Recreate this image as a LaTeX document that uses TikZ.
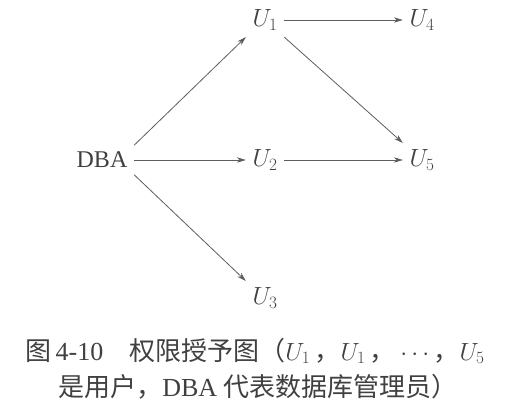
\documentclass[tikz,border=0pt]{standalone}
\usepackage{fontspec}
\setmainfont{Liberation Serif}
\newfontfamily\cjk{Noto Sans CJK SC}
\usetikzlibrary{arrows.meta}
\definecolor{ink}{HTML}{404040}
\tikzset{
  nd/.style={inner sep=6.5pt, text=ink, font=\fontsize{24}{28}\selectfont},
  arr/.style={draw=ink!85, line width=0.8pt, -{Stealth[length=9pt,width=5.5pt]}},
  captext/.style={text=ink, font=\fontsize{26}{30}\selectfont, inner sep=0pt}
}
\begin{document}
\begin{tikzpicture}[x=1pt,y=1pt]
\useasboundingbox (0,0) rectangle (505,418);
\node[nd] (U1) at (265,398) {$U_1$};
\node[nd] (U4) at (422,398) {$U_4$};
\node[nd] (DBA) at (102,258) {DBA};
\node[nd] (U2) at (265,258) {$U_2$};
\node[nd] (U5) at (422,258) {$U_5$};
\node[nd] (U3) at (265,120) {$U_3$};
\draw[arr] (DBA.north east) -- (U1.south west);
\draw[arr] (U1) -- (U4);
\draw[arr] (U1.south east) -- (U5.north west);
\draw[arr] (DBA) -- (U2);
\draw[arr] (U2) -- (U5);
\draw[arr] (DBA.south east) -- (U3.north west);
\node[captext] (c1) at (255,67) {{\cjk 图}\,4-10\quad{\cjk 权限授予图（}$U_1$\,{\cjk ，}$U_1$\,{\cjk ，}\,$\cdots$\,{\cjk ，}$U_5$};
\node[captext] (c2) at (258,31) {{\cjk 是用户，}DBA {\cjk 代表数据库管理员）}};
\end{tikzpicture}
\end{document}
